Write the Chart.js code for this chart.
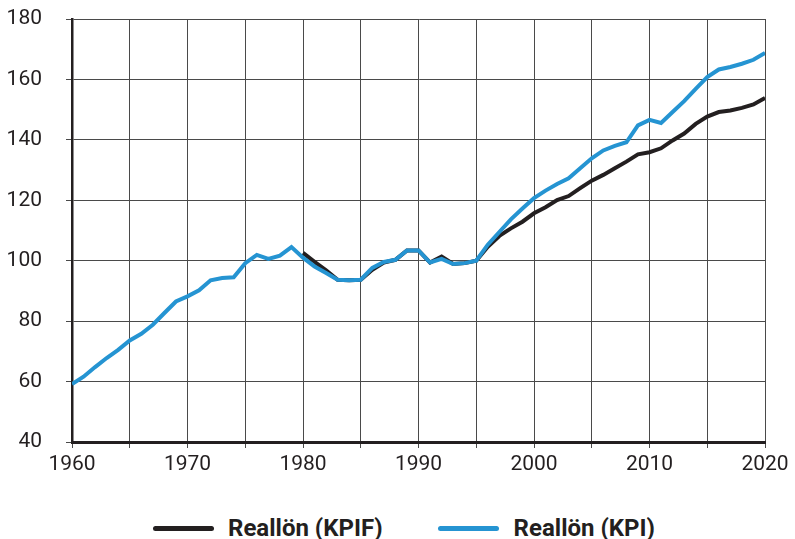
<!DOCTYPE html>
<html>
<head>
<meta charset="utf-8">
<script src="https://cdn.jsdelivr.net/npm/chart.js@4"></script>
<style>
  html, body { margin: 0; padding: 0; background: #fff; }
  #wrap { position: relative; width: 795px; height: 480px; }
  .legend { display: flex; align-items: center; height: 59px; padding-left: 153px; padding-top: 37px; box-sizing: border-box;
            font-family: Roboto, sans-serif; font-weight: bold; font-size: 24px; color: #231f20; }
  .swatch { height: 5px; border-radius: 3px; }
</style>
</head>
<body>
<div id="wrap"><canvas id="chart"></canvas></div>
<div class="legend" id="legend"></div>
<script>
const years = [];
for (let y = 1960; y <= 2020; y++) years.push(y);

// Reallön (KPI), 1960-2020
const kpi = [
  59.2, 61.6, 64.8, 67.8, 70.5, 73.6, 75.8, 78.8, 82.7, 86.5,
  88.2, 90.2, 93.5, 94.3, 94.5, 99.2, 101.9, 100.6, 101.7, 104.5,
  101.0, 98.1, 95.9, 93.7, 93.5, 93.7, 97.6, 99.6, 100.3, 103.4,
  103.4, 99.4, 100.6, 98.9, 99.2, 100.0, 105.3, 109.5, 113.7, 117.3,
  120.7, 123.2, 125.4, 127.3, 130.6, 133.9, 136.5, 138.0, 139.2, 144.8,
  146.6, 145.6, 149.2, 152.8, 156.9, 160.8, 163.3, 164.1, 165.2, 166.5,
  168.8
];

// Reallön (KPIF), from 1980
const kpifYears = [];
for (let y = 1980; y <= 2020; y++) kpifYears.push(y);
const kpif = [
  102.6, 99.6, 96.8, 93.7, 93.5, 93.7, 97.0, 99.4, 100.3, 103.4,
  103.4, 99.4, 101.4, 98.9, 99.2, 100.0, 104.6, 108.2, 110.7, 112.9,
  115.7, 117.7, 120.1, 121.4, 124.0, 126.5, 128.4, 130.6, 132.8, 135.2,
  135.9, 137.2, 139.8, 142.1, 145.3, 147.7, 149.2, 149.7, 150.6, 151.7,
  153.9
];

const seriesNames = ['Reallön (KPIF)', 'Reallön (KPI)'];
const colors = ['#231f20', '#2594d2'];

const toPoints = (xs, ys) => xs.map((x, i) => ({ x: x, y: ys[i] }));

// legend below the canvas
document.getElementById('legend').innerHTML = seriesNames.map((name, i) => `
    <div class="swatch" style="width: 61px; background: ${colors[i]}; margin-left: ${i ? 55 : 0}px;"></div>
    <span style="margin-left: ${i ? 15 : 14}px;">${name}</span>
`).join('');

new Chart(document.getElementById('chart'), {
  type: 'line',
  data: {
    datasets: [
      {
        label: seriesNames[0],
        data: toPoints(kpifYears, kpif),
        borderColor: colors[0],
        backgroundColor: colors[0],
        borderWidth: 4,
        pointRadius: 0,
        tension: 0,
        order: 2
      },
      {
        label: seriesNames[1],
        data: toPoints(years, kpi),
        borderColor: colors[1],
        backgroundColor: colors[1],
        borderWidth: 4,
        pointRadius: 0,
        tension: 0,
        order: 1
      }
    ]
  },
  options: {
    responsive: true,
    maintainAspectRatio: false,
    animation: false,
    layout: { padding: { left: 0, right: 30, top: 19, bottom: 0 } },
    plugins: {
      tooltip: { enabled: false },
      legend: { display: false }
    },
    scales: {
      x: {
        type: 'linear',
        min: 1960,
        max: 2020,
        afterFit: (s) => { s.height = 38; s.paddingLeft = 0; s.paddingRight = 0; },
        border: { color: '#231f20', width: 3 },
        grid: { color: '#4a4a4a', lineWidth: 1, tickLength: 6, tickColor: '#4a4a4a' },
        ticks: {
          stepSize: 5,
          autoSkip: false,
          maxRotation: 0,
          color: '#231f20',
          padding: 4,
          font: { family: 'Roboto', size: 21 },
          callback: (v) => (v % 10 === 0 ? String(v) : '')
        }
      },
      y: {
        min: 40,
        max: 180,
        afterFit: (s) => { s.width = 72; s.paddingTop = 0; s.paddingBottom = 0; },
        border: { color: '#231f20', width: 2.5 },
        grid: { color: '#4a4a4a', lineWidth: 1, tickLength: 6, tickColor: '#4a4a4a' },
        ticks: {
          stepSize: 20,
          color: '#231f20',
          padding: 24,
          font: { family: 'Roboto', size: 21 }
        }
      }
    }
  }
});
</script>
</body>
</html>
